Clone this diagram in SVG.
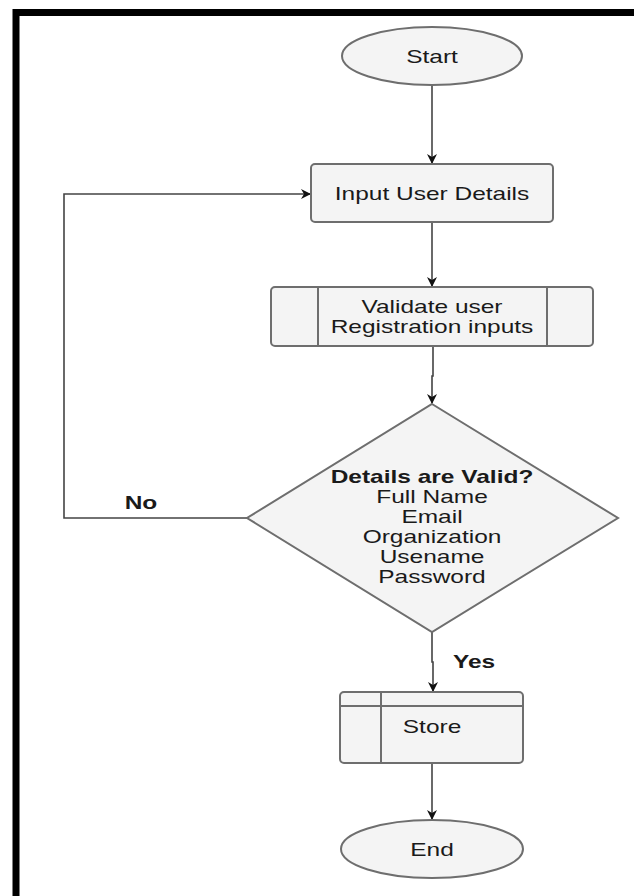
<svg xmlns="http://www.w3.org/2000/svg" width="634" height="896" viewBox="0 0 634 896">
  <defs>
    <marker id="arrow" viewBox="0 0 10 10" refX="9" refY="5" markerWidth="10" markerHeight="10" markerUnits="userSpaceOnUse" orient="auto">
      <path d="M0,0 L10,5 L0,10 L3,5 Z" fill="#111"/>
    </marker>
  </defs>
  <style>
    .shape { fill: #f4f4f4; stroke: #6e6e6e; stroke-width: 2; }
    .div { stroke: #6e6e6e; stroke-width: 2; fill: none; }
    .edge { stroke: #444; stroke-width: 1.6; fill: none; }
    .arrow { marker-end: url(#arrow); }
    text { font-family: "Liberation Sans", Arial, sans-serif; font-size: 17.5px; fill: #1a1a1a; text-anchor: middle; }
    .bold { font-weight: bold; }
  </style>
  <rect width="634" height="896" fill="#ffffff"/>
  <!-- frame edges -->
  <path d="M16,896 V12.5 H634" fill="none" stroke="#000" stroke-width="7"/>

  <g id="connectors">
    <line class="edge arrow" x1="432" y1="85" x2="432" y2="163"/>
    <line class="edge arrow" x1="432" y1="222" x2="432" y2="286"/>
    <path class="edge arrow" d="M433,346 V376 H432 V403"/>
    <path class="edge arrow" d="M247,518 H64 V194 H310"/>
    <path class="edge arrow" d="M432,632 V662 H433 V691"/>
    <line class="edge arrow" x1="432" y1="763" x2="432" y2="819"/>
    <text class="bold" transform="translate(141,509) scale(1.4,1)">No</text>
    <text class="bold" transform="translate(474,668) scale(1.4,1)">Yes</text>
  </g>

  <g id="start">
    <ellipse class="shape" cx="432" cy="56" rx="90" ry="29"/>
    <text transform="translate(432,63) scale(1.4,1)">Start</text>
  </g>

  <g id="input-user-details">
    <rect class="shape" x="311" y="164" width="242" height="58" rx="4"/>
    <text transform="translate(432,200) scale(1.4,1)">Input User Details</text>
  </g>

  <g id="validate-inputs">
    <rect class="shape" x="271" y="287" width="322" height="59" rx="4"/>
    <line class="div" x1="318" y1="287" x2="318" y2="346"/>
    <line class="div" x1="547" y1="287" x2="547" y2="346"/>
    <text transform="translate(432,313) scale(1.4,1)">Validate user</text>
    <text transform="translate(432,333) scale(1.4,1)">Registration inputs</text>
  </g>

  <g id="details-valid">
    <polygon class="shape" points="432,404 618,518 432,632 247,518"/>
    <text class="bold" transform="translate(432,483) scale(1.4,1)">Details are Valid?</text>
    <text transform="translate(432,503) scale(1.4,1)">Full Name</text>
    <text transform="translate(432,523) scale(1.4,1)">Email</text>
    <text transform="translate(432,543) scale(1.4,1)">Organization</text>
    <text transform="translate(432,563) scale(1.4,1)">Usename</text>
    <text transform="translate(432,583) scale(1.4,1)">Password</text>
  </g>

  <g id="store">
    <rect class="shape" x="340" y="692" width="183" height="71" rx="4"/>
    <line class="div" x1="340" y1="706" x2="523" y2="706"/>
    <line class="div" x1="381" y1="692" x2="381" y2="763"/>
    <text transform="translate(432,733) scale(1.4,1)">Store</text>
  </g>

  <g id="end">
    <ellipse class="shape" cx="432" cy="849" rx="91" ry="29"/>
    <text transform="translate(432,856) scale(1.4,1)">End</text>
  </g>
</svg>
